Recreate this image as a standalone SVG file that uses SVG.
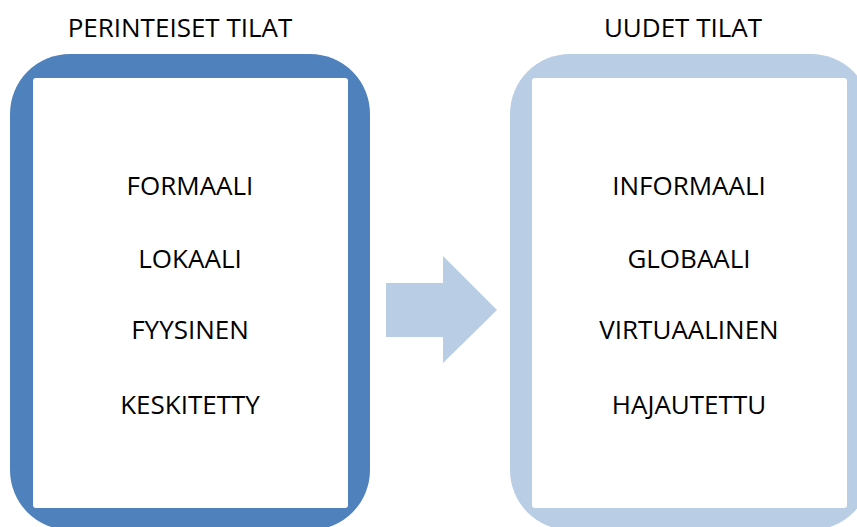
<svg xmlns="http://www.w3.org/2000/svg" width="857" height="527" viewBox="0 0 857 527">
<style>
.t{font-family:"Open Sans","Liberation Sans",sans-serif;font-size:26px;fill:#000;text-anchor:middle}
.inner{fill:#fff}
</style>
<rect width="857" height="527" fill="#fff"/>
<g id="perinteiset">
<rect x="10" y="54" width="360" height="476" rx="60" fill="#4F81BD"/>
<rect class="inner" x="33" y="78" width="315" height="430" rx="3"/>
<text class="t" x="180" y="37">PERINTEISET TILAT</text>
<text class="t" x="190" y="195">FORMAALI</text>
<text class="t" x="190" y="268">LOKAALI</text>
<text class="t" x="190" y="339">FYYSINEN</text>
<text class="t" x="190" y="414">KESKITETTY</text>
</g>
<g id="uudet">
<rect x="510" y="54" width="361" height="476" rx="60" fill="#B9CDE5"/>
<rect class="inner" x="532" y="78" width="315" height="430" rx="3"/>
<text class="t" x="683" y="37">UUDET TILAT</text>
<text class="t" x="689" y="195">INFORMAALI</text>
<text class="t" x="689" y="268">GLOBAALI</text>
<text class="t" x="689" y="339">VIRTUAALINEN</text>
<text class="t" x="689" y="414">HAJAUTETTU</text>
</g>
<g id="connectors">
<polygon points="386,283 443,283 443,256 497,310 443,363 443,337 386,337" fill="#B9CDE5"/>
</g>
</svg>
